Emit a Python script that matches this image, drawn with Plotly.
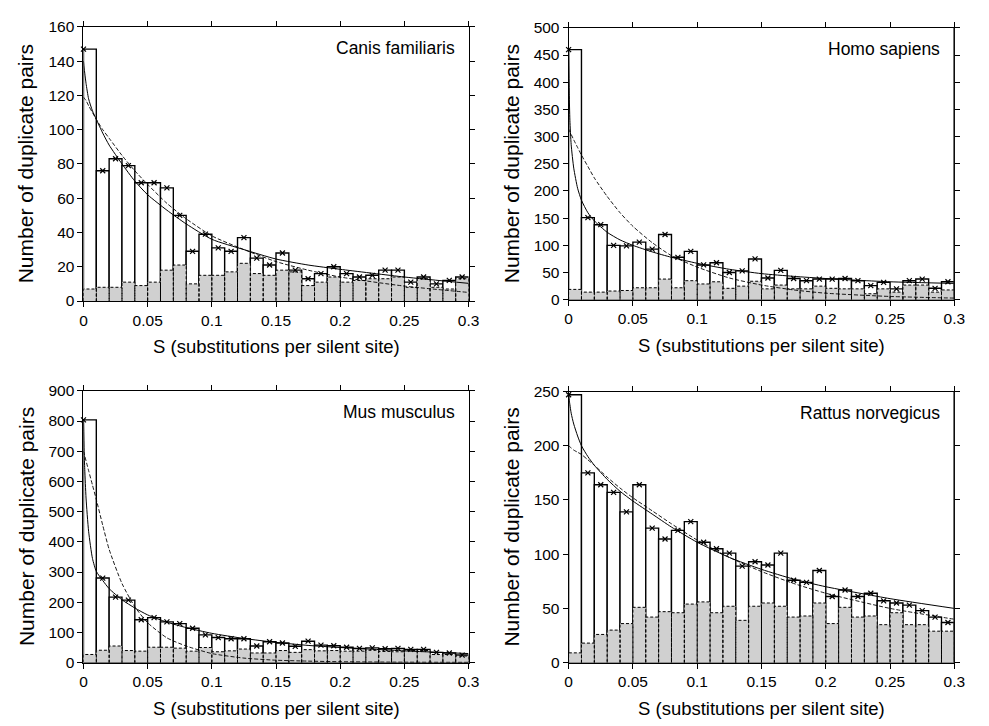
import plotly.graph_objects as go

# ---------------- data ----------------
bin_width = 0.01
bin_centers = [round(0.005 + 0.01 * i, 4) for i in range(30)]
marker_s = [0.0] + bin_centers[1:]

species = ["Canis familiaris", "Homo sapiens", "Mus musculus", "Rattus norvegicus"]

canis_all = [147, 76, 83, 79, 69, 69, 66, 50, 29, 39, 31, 29, 37, 25, 21, 28, 18, 13, 16, 20,
             16, 14, 15, 18, 18, 11, 14, 10, 12, 14]
canis_gray = [7, 8, 8, 11, 9, 11, 18, 21, 10, 15, 15, 17, 22, 16, 15, 18, 17, 9, 11, 14,
              11, 12, 13, 13, 14, 8, 13, 8, 7, 13]

homo_all = [460, 151, 138, 100, 99, 106, 93, 120, 78, 89, 64, 68, 50, 53, 75, 40, 54, 39, 35, 38,
            38, 39, 35, 26, 32, 20, 35, 38, 21, 33]
homo_gray = [19, 14, 14, 16, 17, 22, 22, 38, 22, 35, 29, 33, 21, 25, 34, 20, 27, 20, 20, 25,
             21, 20, 20, 11, 20, 14, 27, 27, 14, 18]

mus_all = [804, 280, 217, 207, 142, 149, 135, 129, 114, 92, 83, 79, 79, 55, 69, 65, 54, 71, 58, 56,
           51, 47, 49, 46, 47, 44, 44, 34, 32, 25]
mus_gray = [27, 41, 55, 40, 38, 51, 51, 48, 38, 50, 36, 39, 45, 32, 32, 40, 34, 43, 39, 40,
            38, 38, 41, 37, 36, 40, 40, 27, 27, 22]

rattus_all = [247, 175, 164, 157, 139, 164, 124, 114, 122, 130, 111, 105, 101, 89, 93, 90, 101, 76, 74, 85,
              61, 67, 61, 64, 57, 55, 53, 48, 42, 37]
rattus_gray = [9, 18, 26, 30, 36, 51, 42, 47, 46, 54, 56, 46, 52, 39, 52, 55, 52, 42, 43, 55,
               36, 51, 42, 43, 35, 46, 35, 35, 29, 29]

fit_s = [0, 0.0005, 0.001, 0.002, 0.004, 0.007, 0.01, 0.015, 0.02, 0.03, 0.04, 0.05, 0.065, 0.08,
         0.1, 0.125, 0.15, 0.175, 0.2, 0.25, 0.3]

canis_solid = [140, 136, 133, 127, 118, 111, 106, 98, 91, 80, 70, 62, 53, 45, 36, 30, 24.5, 21, 18.5, 14, 10.3]
canis_dashed = [119, 118.5, 118, 117, 114, 110, 106, 100, 95, 85, 76, 68, 57, 48, 38, 30, 23, 18, 14, 8.7, 5]

homo_solid = [460, 380, 330, 285, 242, 205, 183, 160, 145, 124, 110, 100, 88, 78, 67, 56, 48, 43, 39, 33, 30]
homo_dashed = [314, 311, 309, 304, 294, 280, 266, 245, 224, 190, 160, 135, 105, 81, 60, 40, 27, 18, 12, 6, 3]

mus_solid = [804, 700, 640, 545, 435, 345, 302, 272, 245, 208, 181, 158, 134, 116, 97, 80, 67, 57, 50, 39, 30]
mus_dashed = [700, 692, 684, 668, 636, 588, 540, 455, 375, 262, 185, 132, 82, 55, 30, 15, 8, 5, 3, 1.5, 1]

rattus_solid = [247, 242, 238, 230, 220, 209, 200, 190, 182, 169, 158, 149, 137, 125, 111, 97, 86, 77, 70, 59, 50]
rattus_dashed = [200, 199.5, 199, 198, 196, 194, 192, 187, 182, 171, 161, 152, 140, 128, 113, 97, 84, 73, 64, 50, 40]

y_ranges = [160, 500, 900, 250]
y_dticks = [20, 50, 100, 50]
x_ticks = [0, 0.05, 0.1, 0.15, 0.2, 0.25, 0.3]
x_ticktext = ["0", "0.05", "0.1", "0.15", "0.2", "0.25", "0.3"]

all_counts = [canis_all, homo_all, mus_all, rattus_all]
gray_counts = [canis_gray, homo_gray, mus_gray, rattus_gray]
solid_fits = [canis_solid, homo_solid, mus_solid, rattus_solid]
dashed_fits = [canis_dashed, homo_dashed, mus_dashed, rattus_dashed]

# ---------------- layout geometry ----------------
W, H = 989, 726
x_doms = [(80.7, 471.7), (573.3, 965.0), (80.7, 471.7), (573.3, 965.0)]
y_doms = [(18.3, 299.0), (19.3, 297.7), (391.0, 669.3), (391.7, 669.3)]
FONT = "Liberation Sans, Arial, Helvetica, sans-serif"
GRAY = "#d0d0d0"

fig = go.Figure()
layout = dict(width=W, height=H, margin=dict(l=0, r=0, t=0, b=0),
              paper_bgcolor="white", plot_bgcolor="white", barmode="overlay",
              showlegend=False, font=dict(family=FONT, color="black"))
annotations = []
shapes = []

for k in range(4):
    ax = "" if k == 0 else str(k + 1)
    xa, ya = "x" + ax, "y" + ax
    tot, gr = all_counts[k], gray_counts[k]

    fig.add_trace(go.Bar(x=bin_centers, y=tot, width=bin_width, xaxis=xa, yaxis=ya,
                         marker=dict(color="white", line=dict(color="black", width=1.4))))
    fig.add_trace(go.Bar(x=bin_centers, y=gr, width=bin_width, xaxis=xa, yaxis=ya,
                         marker=dict(color=GRAY, line=dict(width=0))))
    # dashed outlines of gray bars (built from the data)
    px, py = [], []
    for c, g in zip(bin_centers, gr):
        l, r = c - bin_width / 2, c + bin_width / 2
        px += [l, l, r, r, None]
        py += [0, g, g, 0, None]
    fig.add_trace(go.Scatter(x=px, y=py, mode="lines", xaxis=xa, yaxis=ya,
                             line=dict(color="black", width=1, dash="3px,2px"), hoverinfo="skip"))
    fig.add_trace(go.Scatter(x=fit_s, y=dashed_fits[k], mode="lines", xaxis=xa, yaxis=ya,
                             line=dict(color="black", width=0.9, dash="4px,2px", shape="spline", smoothing=0.6)))
    fig.add_trace(go.Scatter(x=fit_s, y=solid_fits[k], mode="lines", xaxis=xa, yaxis=ya,
                             line=dict(color="black", width=1, shape="spline", smoothing=0.6)))
    fig.add_trace(go.Scatter(x=marker_s, y=tot, mode="markers", xaxis=xa, yaxis=ya, cliponaxis=False,
                             marker=dict(symbol="x-thin", size=5, line=dict(color="black", width=1.2))))

    x0, x1 = x_doms[k]
    yt, yb = y_doms[k]
    common = dict(showline=True, linecolor="black", linewidth=1, mirror="ticks", ticks="outside",
                  ticklen=5, tickcolor="black", tickwidth=1, showgrid=False, zeroline=False,
                  tickfont=dict(family=FONT, size=15.5, color="black"))
    layout["xaxis" + ax] = dict(domain=[x0 / W, x1 / W], range=[0, 0.3], tickmode="array",
                                tickvals=x_ticks, ticktext=x_ticktext, anchor=ya, **common)
    layout["yaxis" + ax] = dict(domain=[1 - yb / H, 1 - yt / H], range=[0, y_ranges[k]],
                                tick0=0, dtick=y_dticks[k], anchor=xa, **common)

    # species label
    annotations.append(dict(text=species[k], xref=xa + " domain", yref=ya + " domain",
                            x=1, y=1, xanchor="right", yanchor="middle", xshift=-12,
                            yshift=-21, showarrow=False,
                            font=dict(family=FONT, size=17.5, color="black")))
    # axis titles
    annotations.append(dict(text="S (substitutions per silent site)", xref="paper", yref="paper",
                            x=(x0 + x1) / 2 / W, y=1 - (yb + 47) / H, xanchor="center",
                            yanchor="middle", showarrow=False,
                            font=dict(family=FONT, size=18.5, color="black")))
    annotations.append(dict(text="Number of duplicate pairs", xref="paper", yref="paper",
                            x=(x0 - 58) / W, y=1 - (yt + yb) / 2 / H, xanchor="center",
                            yanchor="middle", textangle=-90, showarrow=False,
                            font=dict(family=FONT, size=21, color="black")))
    if k in (1, 3):
        shapes.append(dict(type="line", xref=xa, yref=ya, x0=0.3, x1=0.3, y0=0, y1=y_ranges[k],
                           line=dict(color="#222", width=2)))

layout["annotations"] = annotations
layout["shapes"] = shapes
fig.update_layout(**layout)
fig.write_html("out.html")
